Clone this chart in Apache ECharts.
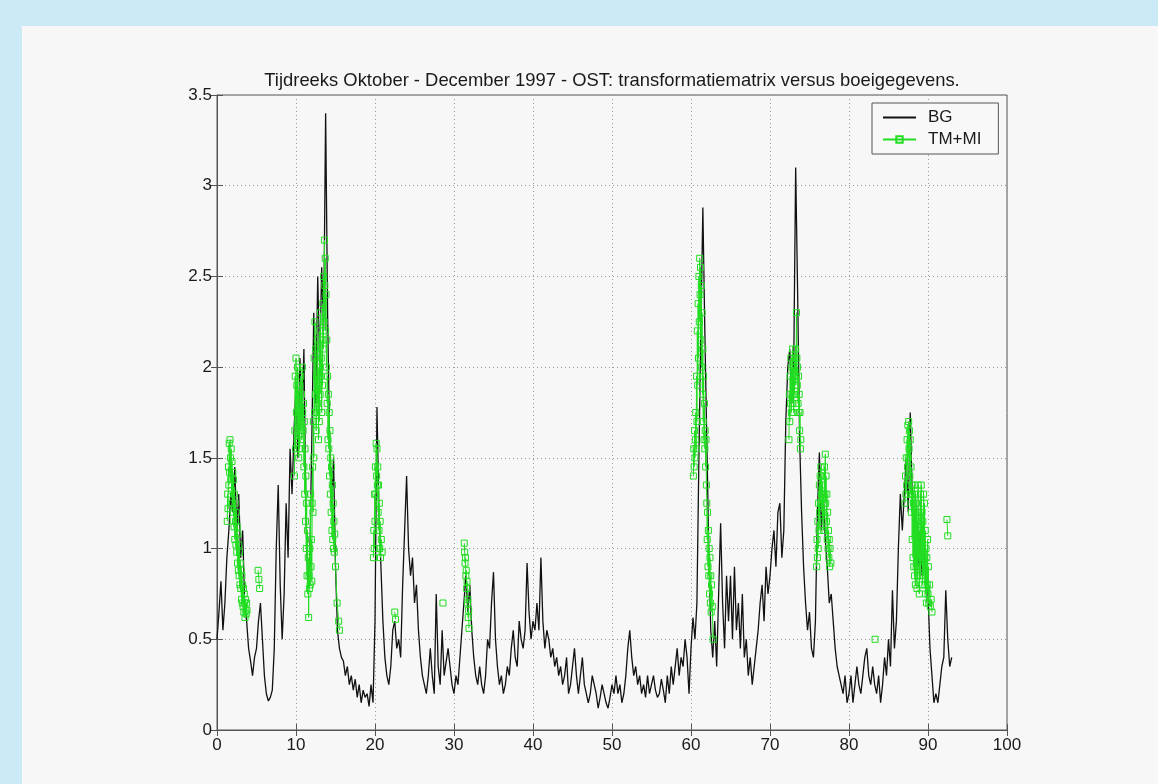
<!DOCTYPE html>
<html>
<head>
<meta charset="utf-8">
<script src="https://cdn.jsdelivr.net/npm/echarts@6/dist/echarts.min.js"></script>
<style>
html,body{margin:0;padding:0;background:#cce9f6;width:1158px;height:784px;overflow:hidden;}
#panel{position:absolute;left:22px;top:26px;width:1136px;height:758px;background:#f7f7f7;}
#chart{position:absolute;left:0;top:0;width:1158px;height:784px;}
</style>
</head>
<body>
<div id="panel"></div>
<div id="chart"></div>
<script>
// ---- data ----
const titleText = 'Tijdreeks Oktober - December 1997 - OST: transformatiematrix versus boeigegevens.';
const xTicks = [0,10,20,30,40,50,60,70,80,90,100];
const yTicks = [0,0.5,1,1.5,2,2.5,3,3.5];
const bgStart = 0;      // day of first BG sample
const bgStep = 0.25;    // days between BG samples
// BG (boeigegevens) series, 4 samples per day, day 0 .. 93
const bgValues = [
 0.50,0.65,0.82,0.55, 0.70,0.95,1.10,1.30, 1.20,1.45,1.10,1.30, 0.95,1.10,0.70,0.60,
 0.45,0.38,0.30,0.40, 0.45,0.60,0.70,0.50, 0.30,0.20,0.16,0.18, 0.22,0.45,1.00,1.35,
 0.80,0.50,0.75,1.25, 0.95,1.55,1.30,1.65, 1.90,1.50,2.05,1.70, 2.10,1.20,0.80,0.95,
 1.60,2.30,1.80,2.50, 2.00,2.55,2.20,3.40, 2.30,1.60,1.20,1.50, 0.90,0.55,0.45,0.40,
 0.38,0.30,0.35,0.25, 0.30,0.22,0.28,0.18, 0.25,0.15,0.22,0.18, 0.20,0.13,0.25,0.15,
 0.60,1.78,1.20,0.90, 0.60,0.40,0.30,0.25, 0.35,0.55,0.60,0.45, 0.50,0.40,0.80,1.10,
 1.40,1.00,0.85,0.95, 0.70,0.80,0.55,0.40, 0.30,0.25,0.20,0.30, 0.45,0.30,0.20,0.75,
 0.35,0.25,0.55,0.30, 0.30,0.45,0.35,0.25, 0.20,0.30,0.25,0.40, 0.55,0.70,0.85,0.65,
 0.80,0.55,0.40,0.30, 0.25,0.35,0.25,0.20, 0.30,0.50,0.45,0.70, 0.87,0.50,0.35,0.25,
 0.30,0.20,0.25,0.35, 0.30,0.45,0.55,0.40, 0.35,0.60,0.50,0.45, 0.55,0.92,0.65,0.50,
 0.60,0.55,0.70,0.55, 0.95,0.60,0.45,0.55, 0.50,0.40,0.45,0.35, 0.40,0.30,0.35,0.25,
 0.30,0.40,0.20,0.25, 0.35,0.45,0.30,0.20, 0.30,0.40,0.25,0.20, 0.15,0.20,0.30,0.25,
 0.20,0.12,0.18,0.25, 0.20,0.15,0.12,0.18, 0.25,0.20,0.30,0.20, 0.25,0.15,0.20,0.30,
 0.45,0.55,0.40,0.30, 0.35,0.25,0.30,0.20, 0.25,0.18,0.30,0.20, 0.25,0.30,0.22,0.18,
 0.20,0.28,0.22,0.15, 0.30,0.20,0.35,0.25, 0.25,0.45,0.30,0.40, 0.35,0.50,0.40,0.20,
 0.45,0.62,0.50,0.70, 1.50,2.20,2.88,2.20, 1.60,1.00,0.55,0.40, 0.60,0.35,0.75,1.14,
 0.70,0.45,0.85,0.60, 0.85,0.50,0.90,0.55, 0.70,0.45,0.75,0.40, 0.50,0.30,0.40,0.25,
 0.35,0.45,0.55,0.70, 0.80,0.60,0.90,0.75, 0.85,1.00,1.10,0.90, 1.20,1.25,0.95,1.10,
 1.70,2.00,2.10,1.80, 2.00,3.10,2.40,1.60, 1.20,0.90,0.70,0.55, 0.65,0.45,0.40,0.60,
 1.20,1.53,1.10,1.30, 1.05,0.90,0.70,0.75, 0.60,0.45,0.35,0.30, 0.25,0.20,0.30,0.15,
 0.20,0.30,0.15,0.25, 0.35,0.25,0.20,0.30, 0.40,0.45,0.30,0.25, 0.35,0.25,0.20,0.30,
 0.15,0.25,0.40,0.30, 0.50,0.35,0.77,0.45, 0.60,1.00,1.30,1.10, 1.30,1.50,1.20,1.75,
 1.30,1.10,1.20,0.90, 1.10,0.85,1.00,0.80, 0.75,0.45,0.30,0.15, 0.20,0.15,0.25,0.35,
 0.40,0.77,0.50,0.35, 0.40
];
// TM+MI episodes: [day, value] pairs
const tmEpA = [[1.30,1.15],[1.35,1.30],[1.40,1.22],[1.45,1.45],[1.50,1.35],[1.55,1.58],[1.60,1.42],[1.65,1.60],[1.70,1.50],[1.75,1.38],
 [1.80,1.55],[1.85,1.32],[1.90,1.48],[1.95,1.25],[2.00,1.42],[2.05,1.20],[2.10,1.38],[2.15,1.12],[2.20,1.30],[2.25,1.05],
 [2.30,1.25],[2.35,1.15],[2.40,1.02],[2.45,1.20],[2.50,0.98],[2.55,1.12],[2.60,0.92],[2.65,1.08],[2.70,0.88],[2.75,1.02],
 [2.80,0.85],[2.85,0.98],[2.90,0.80],[2.95,0.92],[3.00,0.78],[3.05,0.88],[3.10,0.72],[3.15,0.85],[3.20,0.70],[3.25,0.80],
 [3.30,0.68],[3.35,0.78],[3.40,0.65],[3.45,0.75],[3.50,0.70],[3.55,0.62],[3.60,0.72],[3.65,0.66],[3.70,0.64],[3.75,0.70],[3.80,0.66]];
const tmEpB = [[5.20,0.88],[5.30,0.83],[5.40,0.78]];
const tmEpC = [[9.80,1.40],[9.85,1.65],[9.90,1.95],[9.95,1.55],[10.00,2.05],[10.05,1.75],[10.10,1.90],[10.15,1.60],[10.20,2.00],[10.25,1.70],
 [10.30,1.85],[10.35,1.50],[10.40,1.75],[10.45,1.55],[10.50,1.90],[10.55,1.65],[10.60,1.95],[10.65,1.70],[10.70,1.85],[10.75,1.60],
 [10.80,2.00],[10.85,1.75],[10.90,1.65],[10.95,1.80],[11.00,1.45],[11.05,1.70],[11.10,1.30],[11.15,1.55],[11.20,1.15],[11.25,1.40],
 [11.30,1.00],[11.35,1.25],[11.40,0.85],[11.45,1.10],[11.50,0.75],[11.55,0.95],[11.60,0.62],[11.65,0.85],[11.70,0.78],[11.75,1.00],
 [11.80,0.80],[11.85,1.30],[11.90,0.90],[11.95,1.05],[12.00,0.82],[12.05,1.25],[12.10,1.45],[12.15,1.20],[12.20,1.70],[12.25,1.50],
 [12.30,2.05],[12.35,1.75],[12.40,2.25],[12.45,1.85],[12.50,2.10],[12.55,1.65],[12.60,1.95],[12.65,1.75],[12.70,2.15],[12.75,1.80],
 [12.80,2.00],[12.85,1.60],[12.90,1.90],[12.95,1.70],[13.00,2.20],[13.05,1.85],[13.10,2.30],[13.15,1.95],[13.20,2.05],[13.25,1.75],
 [13.30,2.15],[13.35,1.90],[13.40,2.35],[13.45,2.10],[13.50,2.50],[13.55,2.25],[13.60,2.70],[13.65,2.45],[13.70,2.60],[13.75,2.20],
 [13.80,2.40],[13.85,2.00],[13.90,2.15],[13.95,1.80],[14.00,1.95],[14.05,1.60],[14.10,1.85],[14.15,1.55],[14.20,1.75],[14.25,1.40],
 [14.30,1.65],[14.35,1.30],[14.40,1.50],[14.45,1.20],[14.50,1.45],[14.55,1.10],[14.60,1.35],[14.65,1.05],[14.70,1.25],[14.75,1.00],
 [14.80,1.15],[14.85,0.98],[14.90,1.08],[15.00,0.90],[15.20,0.70],[15.40,0.60],[15.50,0.55]];
const tmEpD = [[19.80,0.95],[19.85,1.10],[19.90,1.00],[19.95,1.30],[20.00,1.15],[20.05,1.45],[20.10,1.30],[20.15,1.58],[20.20,1.40],[20.25,1.55],
 [20.30,1.35],[20.35,1.45],[20.40,1.20],[20.45,1.35],[20.50,1.10],[20.55,1.25],[20.60,1.00],[20.65,1.15],[20.70,0.95],[20.80,1.05],[20.90,0.98]];
const tmEpE = [[22.50,0.65],[22.60,0.61]];
const tmEpF = [[28.60,0.70]];
const tmEpG = [[31.30,1.03],[31.35,0.98],[31.40,0.92],[31.45,0.95],[31.50,0.85],[31.55,0.88],[31.60,0.78],[31.65,0.82],[31.70,0.70],[31.75,0.72],
 [31.80,0.62],[31.85,0.66],[31.90,0.56]];
const tmEpH = [[60.30,1.40],[60.35,1.55],[60.40,1.45],[60.45,1.65],[60.50,1.50],[60.55,1.60],[60.60,1.75],[60.65,1.55],[60.70,1.95],[60.75,1.70],
 [60.80,2.20],[60.85,1.90],[60.90,2.35],[60.95,2.05],[61.00,2.50],[61.05,2.25],[61.10,2.60],[61.15,2.40],[61.20,2.55],[61.25,2.15],
 [61.30,2.45],[61.35,2.00],[61.40,2.30],[61.45,1.85],[61.50,2.10],[61.55,1.70],[61.60,1.95],[61.65,1.60],[61.70,1.80],[61.75,1.55],
 [61.80,1.65],[61.85,1.45],[61.90,1.60],[61.95,1.35],[62.00,1.25],[62.05,1.05],[62.10,1.20],[62.15,0.90],[62.20,1.10],[62.25,0.85],
 [62.30,1.00],[62.35,0.75],[62.40,0.95],[62.45,0.70],[62.50,0.85],[62.55,0.65],[62.60,0.80],[62.70,0.68],[62.80,0.50]];
const tmEpI = [[72.40,1.60],[72.45,1.85],[72.50,1.70],[72.55,1.95],[72.60,1.80],[72.65,2.05],[72.70,1.75],[72.75,2.00],[72.80,1.85],[72.85,2.10],
 [72.90,1.80],[72.95,2.00],[73.00,1.75],[73.05,1.95],[73.10,1.85],[73.15,2.05],[73.20,1.90],[73.25,2.10],[73.30,1.95],[73.35,2.30],
 [73.40,2.05],[73.45,1.90],[73.50,2.00],[73.55,1.80],[73.60,1.95],[73.65,1.75],[73.70,1.85],[73.75,1.65],[73.80,1.75],[73.85,1.55],[73.90,1.60]];
const tmEpJ = [[75.90,0.90],[75.95,1.05],[76.00,0.95],[76.05,1.15],[76.10,1.00],[76.15,1.25],[76.20,1.10],[76.25,1.35],[76.30,1.20],[76.35,1.40],
 [76.40,1.25],[76.45,1.45],[76.50,1.30],[76.55,1.40],[76.60,1.20],[76.65,1.35],[76.70,1.15],[76.75,1.30],[76.80,1.10],[76.85,1.25],
 [76.90,1.45],[76.95,1.30],[77.00,1.52],[77.05,1.25],[77.10,1.40],[77.15,1.15],[77.20,1.30],[77.25,1.05],[77.30,1.20],[77.35,1.00],
 [77.40,1.10],[77.45,0.95],[77.50,1.05],[77.55,0.90],[77.60,1.00],[77.70,0.92]];
const tmEpK = [[83.30,0.50]];
const tmEpL = [[87.10,1.25],[87.15,1.40],[87.20,1.30],[87.25,1.50],[87.30,1.35],[87.35,1.60],[87.40,1.45],[87.45,1.68],[87.50,1.50],[87.55,1.70],
 [87.60,1.55],[87.65,1.65],[87.70,1.40],[87.75,1.60],[87.80,1.30],[87.85,1.45],[87.90,1.20],[87.95,1.35],[88.00,1.05],[88.05,1.30],
 [88.10,0.95],[88.15,1.25],[88.20,0.90],[88.25,1.35],[88.30,0.85],[88.35,1.20],[88.40,0.80],[88.45,1.30],[88.50,0.90],[88.55,1.25],
 [88.60,0.78],[88.65,1.15],[88.70,0.85],[88.75,1.35],[88.80,0.95],[88.85,1.20],[88.90,0.75],[88.95,1.10],[89.00,0.85],[89.05,1.30],
 [89.10,0.90],[89.15,1.35],[89.20,0.95],[89.25,1.20],[89.30,0.80],[89.35,1.15],[89.40,0.85],[89.45,1.30],[89.50,0.95],[89.55,1.25],
 [89.60,0.80],[89.65,1.10],[89.70,0.75],[89.75,1.00],[89.80,0.70],[89.85,0.95],[89.90,0.80],[89.95,1.05],[90.00,0.75],[90.05,0.90],
 [90.10,0.70],[90.20,0.80],[90.30,0.68],[90.40,0.72],[90.50,0.65]];
const tmEpM = [[92.40,1.16],[92.50,1.07]];

// ---- build ----
const bgData = bgValues.map((v, i) => [bgStart + i * bgStep, v]);
const tmEpisodes = [tmEpA, tmEpB, tmEpC, tmEpD, tmEpE, tmEpF, tmEpG, tmEpH, tmEpI, tmEpJ, tmEpK, tmEpL, tmEpM];
const tmData = [];
tmEpisodes.forEach((ep, k) => { if (k) tmData.push([null, null]); ep.forEach(p => tmData.push(p)); });

const FONT = '"Liberation Sans", Arial, Helvetica, sans-serif';
const chart = echarts.init(document.getElementById('chart'), null, {renderer: 'canvas'});
const gridLine = {show: true, lineStyle: {color: '#9a9a9a', type: [1, 3], width: 1}};
const GREEN = '#22dd22';
chart.setOption({
  backgroundColor: 'transparent',
  animation: false,
  title: {
    text: titleText, left: 607, top: 67, textAlign: 'center',
    textStyle: {fontFamily: FONT, fontSize: 18.4, fontWeight: 'normal', color: '#1a1a1a'}
  },
  legend: {
    orient: 'vertical', left: 872, top: 103,
    padding: [6, 17, 6, 10], itemGap: 5, itemWidth: 33, itemHeight: 8,
    borderColor: '#555', borderWidth: 1, backgroundColor: '#f8f8f8',
    textStyle: {fontFamily: FONT, fontSize: 17, color: '#1a1a1a', padding: [0, 0, 0, 7], lineHeight: 17},
    data: [
      {name: 'BG', itemStyle: {opacity: 0}},
      {name: 'TM+MI'}
    ]
  },
  grid: {left: 217, top: 95, width: 790, height: 635, show: true, borderColor: '#555', borderWidth: 1, backgroundColor: 'transparent'},
  xAxis: [{
    type: 'value', min: 0, max: 100, interval: 10, position: 'bottom',
    axisLine: {show: true, onZero: false, lineStyle: {color: '#555'}},
    axisTick: {show: true, inside: true, length: 6, lineStyle: {color: '#555'}},
    axisLabel: {fontFamily: FONT, fontSize: 17, color: '#1a1a1a', margin: 7,
      formatter: v => (xTicks.indexOf(v) >= 0 ? String(v) : '')},
    splitLine: gridLine
  }, {
    type: 'value', min: 0, max: 100, interval: 10, position: 'top',
    axisLine: {show: true, lineStyle: {color: '#555'}},
    axisTick: {show: true, inside: true, length: 6, lineStyle: {color: '#555'}},
    axisLabel: {show: false}, splitLine: {show: false}
  }],
  yAxis: [{
    type: 'value', min: 0, max: 3.5, interval: 0.5, position: 'left',
    axisLine: {show: true, onZero: false, lineStyle: {color: '#555'}},
    axisTick: {show: true, inside: true, length: 6, lineStyle: {color: '#555'}},
    axisLabel: {fontFamily: FONT, fontSize: 17, color: '#1a1a1a', margin: 5,
      formatter: v => (yTicks.indexOf(v) >= 0 ? String(v) : '')},
    splitLine: gridLine
  }, {
    type: 'value', min: 0, max: 3.5, interval: 0.5, position: 'right',
    axisLine: {show: true, lineStyle: {color: '#555'}},
    axisTick: {show: true, inside: true, length: 6, lineStyle: {color: '#555'}},
    axisLabel: {show: false}, splitLine: {show: false}
  }],
  series: [{
    name: 'BG', type: 'line', data: bgData, showSymbol: false, symbol: 'none',
    lineStyle: {color: '#111', width: 1.3}, itemStyle: {color: '#333'}
  }, {
    name: 'TM+MI', type: 'line', data: tmData, connectNulls: false,
    symbol: 'rect', symbolSize: 6, showSymbol: true,
    lineStyle: {color: GREEN, width: 1},
    itemStyle: {color: 'rgba(0,0,0,0)', borderColor: GREEN, borderWidth: 1}
  }]
});
</script>
</body>
</html>
